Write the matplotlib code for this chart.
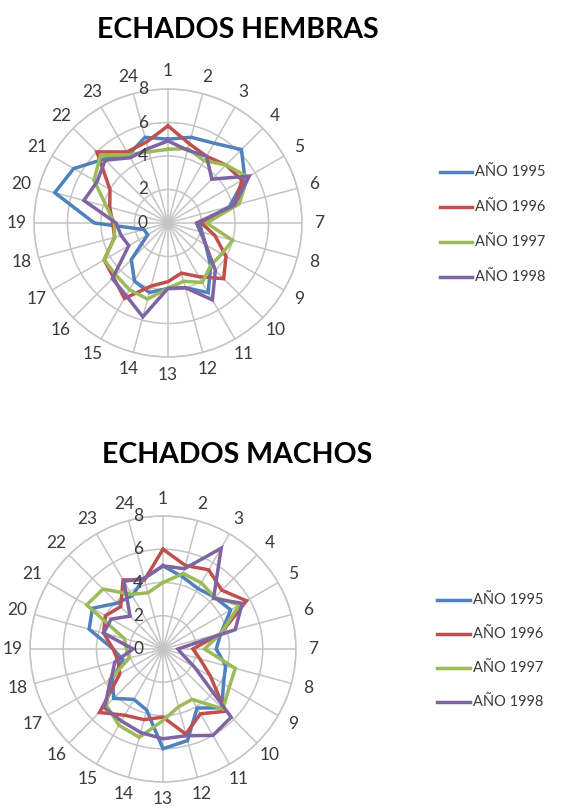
import numpy as np
import matplotlib
matplotlib.use("Agg")
import matplotlib.pyplot as plt
from matplotlib.lines import Line2D
from matplotlib.transforms import offset_copy

plt.rcParams['font.family'] = ['Lato', 'DejaVu Sans']

categories = [str(i) for i in range(1, 25)]
series_names = ["AÑO 1995", "AÑO 1996", "AÑO 1997", "AÑO 1998"]
colors = ["#4F81BD", "#C0504D", "#9BBB59", "#8064A2"]
radial_ticks = [0, 2, 4, 6, 8]

# ECHADOS HEMBRAS
hembras_1995 = [5.0, 5.3, 5.5, 6.2, 5.3, 3.8, 1.9, 2.1, 2.6, 3.6, 4.8, 4.0, 3.9, 4.3, 4.0, 3.1, 1.4, 1.5, 4.4, 7.0, 6.5, 5.4, 4.7, 5.3]
hembras_1996 = [5.8, 4.9, 4.6, 4.9, 5.1, 4.1, 2.0, 2.9, 4.0, 4.7, 3.7, 3.1, 3.5, 3.9, 5.2, 4.6, 4.4, 3.3, 3.3, 3.6, 4.0, 6.0, 4.9, 5.0]
hembras_1997 = [4.4, 4.6, 4.3, 4.9, 5.5, 4.4, 2.3, 4.0, 3.7, 3.6, 4.1, 3.6, 3.9, 4.7, 4.6, 4.4, 4.4, 3.3, 3.2, 3.8, 5.1, 5.7, 4.7, 4.4]
hembras_1998 = [4.9, 4.5, 4.6, 3.7, 5.6, 4.1, 1.7, 2.0, 2.6, 4.0, 5.3, 4.0, 3.9, 5.8, 5.0, 4.7, 2.7, 2.9, 3.1, 5.2, 4.9, 5.3, 4.5, 4.6]

# ECHADOS MACHOS
machos_1995 = [5.0, 4.5, 4.2, 4.4, 4.7, 3.6, 3.2, 3.9, 4.2, 5.0, 4.1, 5.7, 6.0, 3.8, 3.5, 4.2, 3.5, 2.5, 3.0, 4.6, 4.9, 3.9, 3.7, 4.4]
machos_1996 = [6.0, 5.2, 5.5, 5.0, 5.8, 3.6, 1.8, 2.3, 3.3, 5.3, 4.5, 5.3, 4.1, 4.4, 4.6, 5.4, 3.0, 2.8, 3.0, 3.7, 4.0, 3.6, 4.8, 4.3]
machos_1997 = [4.0, 4.7, 4.6, 4.4, 5.3, 3.6, 2.5, 4.5, 4.6, 5.1, 3.5, 3.6, 4.3, 5.5, 5.3, 4.8, 3.7, 2.1, 2.2, 2.4, 5.3, 5.1, 3.8, 3.5]
machos_1998 = [5.0, 5.0, 7.0, 4.3, 5.5, 4.5, 0.9, 1.2, 2.2, 5.8, 6.0, 5.4, 5.4, 5.2, 5.0, 5.0, 3.6, 3.0, 1.8, 3.7, 3.6, 2.8, 4.7, 4.4]

W, H = 561, 808
fig = plt.figure(figsize=(W / 100, H / 100), dpi=100)
fig.patch.set_facecolor("white")

angles = np.linspace(0, 2 * np.pi, len(categories), endpoint=False)
GRID = "#C4C4C4"
TXT = "#3A3A3A"


def radar(cx, cy, rad, data):
    ax = fig.add_axes([(cx - rad) / W, (H - cy - rad) / H, 2 * rad / W, 2 * rad / H],
                      projection="polar")
    ax.set_theta_zero_location("N")
    ax.set_theta_direction(-1)
    ax.set_ylim(0, 8)
    ax.set_xticks(angles)
    ax.set_xticklabels([])
    ax.set_yticks(radial_ticks)
    ax.set_yticklabels([])
    ax.grid(True, color=GRID, linewidth=1.1)
    ax.spines["polar"].set_color(GRID)
    ax.spines["polar"].set_linewidth(1.1)
    ax.tick_params(length=0)
    for vals, col in zip(data, colors):
        v = list(vals) + [vals[0]]
        a = list(angles) + [angles[0]]
        ax.plot(a, v, color=col, linewidth=2.5, solid_joinstyle="miter")
    for ang, lab in zip(angles, categories):
        ax.text(ang, 9.05, lab, ha="center", va="center", fontsize=12.5,
                color=TXT, clip_on=False)
    tr = offset_copy(ax.transData, fig=fig, x=-25, y=0, units="dots")
    for r in radial_ticks:
        ax.text(0, r, str(r), transform=tr, ha="center", va="center",
                fontsize=12.5, color=TXT, clip_on=False)
    return ax


def legend(x0, x1, ys):
    for y, col, name in zip(ys, colors, series_names):
        fig.add_artist(Line2D([x0 / W, x1 / W], [1 - y / H, 1 - y / H],
                              color=col, linewidth=2.5, transform=fig.transFigure))
        fig.text((x1 + 3) / W, 1 - y / H, name, ha="left", va="center",
                 fontsize=10.5, color=TXT)


radar(168, 223, 134, [hembras_1995, hembras_1996, hembras_1997, hembras_1998])
radar(163, 649, 133, [machos_1995, machos_1996, machos_1997, machos_1998])

fig.text(238 / W, 1 - 30 / H, "ECHADOS HEMBRAS", ha="center", va="center",
         fontsize=20.5, fontweight="bold", color="black")
fig.text(237 / W, 1 - 455 / H, "ECHADOS MACHOS", ha="center", va="center",
         fontsize=20.5, fontweight="bold", color="black")

legend(440, 472, [172, 207, 242, 277])
legend(437, 470, [600, 634, 668, 702])

fig.savefig("out.png", dpi=100)
